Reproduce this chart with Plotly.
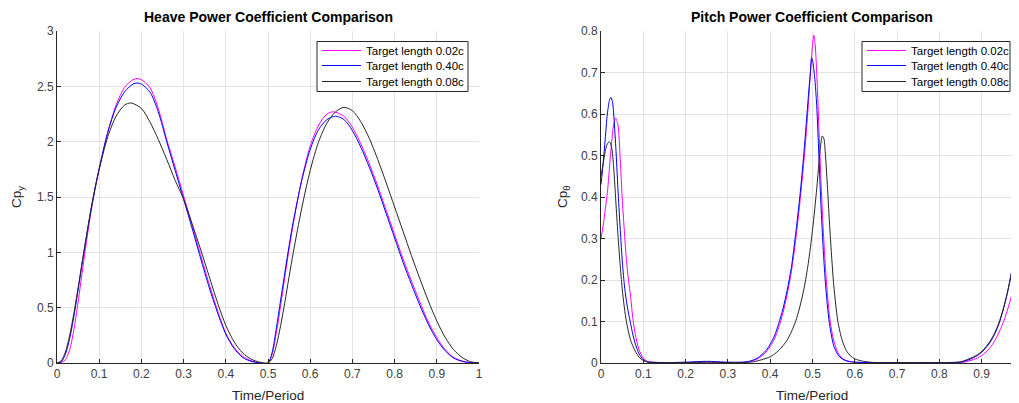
import plotly.graph_objects as go

# ---------------- Heave power coefficient (left) ----------------
heave_t_02 = [0, 0.01, 0.02, 0.03, 0.04, 0.05, 0.06, 0.07, 0.08, 0.09, 0.10, 0.12, 0.14, 0.16, 0.18, 0.19,
              0.20, 0.22, 0.24, 0.26, 0.28, 0.30, 0.32, 0.34, 0.36, 0.38, 0.40, 0.42, 0.44, 0.46, 0.48, 0.50,
              0.51, 0.52, 0.53, 0.54, 0.55, 0.56, 0.58, 0.60, 0.62, 0.64, 0.655, 0.68, 0.70, 0.72, 0.74, 0.76,
              0.78, 0.80, 0.82, 0.84, 0.86, 0.88, 0.90, 0.92, 0.94, 0.96, 0.98, 1.0]
heave_02 = [0, 0.005, 0.03, 0.12, 0.30, 0.55, 0.83, 1.10, 1.35, 1.57, 1.75, 2.08, 2.33, 2.49, 2.56, 2.57,
            2.56, 2.49, 2.30, 2.02, 1.77, 1.51, 1.25, 0.98, 0.72, 0.48, 0.27, 0.14, 0.06, 0.02, 0.003, 0,
            0.08, 0.28, 0.52, 0.78, 1.03, 1.26, 1.66, 1.96, 2.15, 2.25, 2.27, 2.23, 2.13, 1.98, 1.80, 1.60,
            1.38, 1.16, 0.94, 0.74, 0.55, 0.37, 0.23, 0.12, 0.05, 0.018, 0.004, 0]

heave_t_40 = [0, 0.01, 0.02, 0.03, 0.04, 0.05, 0.06, 0.07, 0.08, 0.09, 0.10, 0.12, 0.14, 0.16, 0.18, 0.19,
              0.20, 0.22, 0.24, 0.26, 0.28, 0.30, 0.32, 0.34, 0.36, 0.38, 0.40, 0.42, 0.44, 0.46, 0.48, 0.50,
              0.51, 0.52, 0.53, 0.54, 0.55, 0.56, 0.58, 0.60, 0.62, 0.64, 0.66, 0.68, 0.70, 0.72, 0.74, 0.76,
              0.78, 0.80, 0.82, 0.84, 0.86, 0.88, 0.90, 0.92, 0.94, 0.96, 0.98, 1.0]
heave_40 = [0, 0.01, 0.08, 0.22, 0.42, 0.66, 0.91, 1.15, 1.38, 1.58, 1.76, 2.08, 2.31, 2.45, 2.52, 2.53,
            2.52, 2.45, 2.27, 2.00, 1.74, 1.48, 1.22, 0.95, 0.69, 0.46, 0.26, 0.13, 0.05, 0.015, 0.002, 0,
            0.10, 0.32, 0.57, 0.82, 1.06, 1.28, 1.65, 1.93, 2.11, 2.20, 2.23, 2.20, 2.10, 1.95, 1.77, 1.57,
            1.35, 1.13, 0.91, 0.71, 0.52, 0.35, 0.21, 0.11, 0.045, 0.015, 0.003, 0]

heave_t_08 = [0, 0.01, 0.02, 0.03, 0.04, 0.05, 0.06, 0.07, 0.08, 0.09, 0.10, 0.12, 0.14, 0.16, 0.175,
              0.20, 0.22, 0.24, 0.26, 0.28, 0.30, 0.32, 0.34, 0.36, 0.38, 0.40, 0.42, 0.44, 0.46, 0.48, 0.50,
              0.51, 0.52, 0.53, 0.54, 0.55, 0.56, 0.58, 0.60, 0.62, 0.64, 0.66, 0.68, 0.70, 0.72, 0.74, 0.76,
              0.78, 0.80, 0.82, 0.84, 0.86, 0.88, 0.90, 0.92, 0.94, 0.96, 0.98, 1.0]
heave_08 = [0, 0.02, 0.10, 0.25, 0.45, 0.68, 0.92, 1.15, 1.37, 1.57, 1.75, 2.04, 2.23, 2.33, 2.35,
            2.30, 2.18, 2.02, 1.84, 1.65, 1.48, 1.26, 1.03, 0.79, 0.55, 0.34, 0.19, 0.09, 0.035, 0.008, 0,
            0.04, 0.16, 0.34, 0.55, 0.78, 1.00, 1.40, 1.74, 2.00, 2.17, 2.27, 2.31, 2.28, 2.18, 2.03, 1.84,
            1.63, 1.41, 1.19, 0.97, 0.76, 0.56, 0.38, 0.23, 0.12, 0.05, 0.012, 0]

# ---------------- Pitch power coefficient (right) ----------------
pitch_t_02 = [0, 0.005, 0.01, 0.015, 0.02, 0.025, 0.03, 0.035, 0.04, 0.045, 0.05, 0.055, 0.06, 0.065, 0.07,
              0.075, 0.08, 0.085, 0.09, 0.10, 0.11, 0.12, 0.15, 0.20, 0.25, 0.30, 0.33, 0.35, 0.37, 0.39,
              0.40, 0.41, 0.42, 0.43, 0.44, 0.45, 0.46, 0.47, 0.48, 0.49, 0.495, 0.50, 0.503, 0.506, 0.51,
              0.515, 0.52, 0.525, 0.53, 0.535, 0.54, 0.545, 0.55, 0.56, 0.57, 0.58, 0.60, 0.65, 0.70, 0.75,
              0.80, 0.85, 0.87, 0.89, 0.90, 0.91, 0.92, 0.93, 0.94, 0.95, 0.96, 0.97, 0.98, 0.99, 1.0]
pitch_02 = [0.30, 0.33, 0.37, 0.41, 0.47, 0.53, 0.575, 0.59, 0.575, 0.50, 0.40, 0.32, 0.25, 0.20, 0.16,
            0.11, 0.075, 0.05, 0.032, 0.012, 0.004, 0.002, 0.001, 0.001, 0.002, 0.001, 0.001, 0.003, 0.010, 0.026,
            0.04, 0.058, 0.085, 0.12, 0.165, 0.22, 0.295, 0.385, 0.49, 0.62, 0.70, 0.765, 0.79, 0.77, 0.70,
            0.57, 0.44, 0.33, 0.24, 0.17, 0.115, 0.08, 0.055, 0.025, 0.012, 0.006, 0.002, 0.001, 0.001, 0.001,
            0.001, 0.001, 0.005, 0.012, 0.018, 0.026, 0.037, 0.052, 0.072, 0.095, 0.125, 0.16, 0.205, 0.255, 0.30]

pitch_t_40 = [0, 0.005, 0.01, 0.015, 0.02, 0.023, 0.027, 0.03, 0.035, 0.04, 0.045, 0.05, 0.055, 0.06, 0.065,
              0.07, 0.075, 0.08, 0.09, 0.10, 0.11, 0.12, 0.15, 0.20, 0.25, 0.30, 0.33, 0.35, 0.37, 0.39,
              0.40, 0.41, 0.42, 0.43, 0.44, 0.45, 0.46, 0.47, 0.48, 0.49, 0.495, 0.498, 0.50, 0.505, 0.51,
              0.515, 0.52, 0.525, 0.53, 0.535, 0.54, 0.545, 0.55, 0.56, 0.57, 0.58, 0.60, 0.65, 0.70, 0.75,
              0.80, 0.85, 0.87, 0.89, 0.90, 0.91, 0.92, 0.93, 0.94, 0.95, 0.96, 0.97, 0.98, 0.99, 1.0]
pitch_40 = [0.43, 0.48, 0.54, 0.60, 0.633, 0.64, 0.63, 0.60, 0.52, 0.42, 0.33, 0.25, 0.19, 0.15, 0.12,
            0.095, 0.07, 0.05, 0.022, 0.008, 0.003, 0.002, 0.001, 0.002, 0.004, 0.002, 0.002, 0.004, 0.012, 0.03,
            0.045, 0.065, 0.095, 0.13, 0.175, 0.23, 0.31, 0.40, 0.51, 0.64, 0.70, 0.735, 0.73, 0.69, 0.62,
            0.50, 0.38, 0.28, 0.20, 0.14, 0.095, 0.065, 0.042, 0.02, 0.01, 0.005, 0.002, 0.001, 0.001, 0.001,
            0.001, 0.002, 0.008, 0.018, 0.026, 0.037, 0.05, 0.068, 0.092, 0.125, 0.165, 0.215, 0.275, 0.345, 0.43]

pitch_t_08 = [0, 0.005, 0.01, 0.015, 0.02, 0.025, 0.03, 0.035, 0.04, 0.045, 0.05, 0.055, 0.06, 0.065, 0.07,
              0.08, 0.09, 0.10, 0.11, 0.12, 0.15, 0.20, 0.25, 0.30, 0.33, 0.36, 0.38, 0.40, 0.42, 0.44,
              0.45, 0.46, 0.47, 0.48, 0.49, 0.50, 0.51, 0.515, 0.52, 0.523, 0.527, 0.53, 0.535, 0.54, 0.545,
              0.55, 0.555, 0.56, 0.57, 0.58, 0.59, 0.60, 0.62, 0.65, 0.70, 0.75, 0.80, 0.85, 0.87, 0.89,
              0.90, 0.91, 0.92, 0.93, 0.94, 0.95, 0.96, 0.97, 0.98, 0.99, 1.0]
pitch_08 = [0.45, 0.48, 0.51, 0.528, 0.533, 0.52, 0.47, 0.39, 0.31, 0.24, 0.18, 0.135, 0.10, 0.075, 0.055,
            0.03, 0.014, 0.006, 0.002, 0.001, 0.001, 0.001, 0.002, 0.001, 0.001, 0.003, 0.008, 0.015, 0.03, 0.055,
            0.075, 0.10, 0.135, 0.18, 0.24, 0.32, 0.42, 0.48, 0.53, 0.547, 0.54, 0.51, 0.43, 0.34, 0.26,
            0.19, 0.14, 0.10, 0.055, 0.03, 0.017, 0.01, 0.004, 0.001, 0.001, 0.001, 0.001, 0.003, 0.01, 0.02,
            0.028, 0.039, 0.053, 0.071, 0.095, 0.127, 0.167, 0.217, 0.277, 0.35, 0.45]

series_names = ["Target length 0.02c", "Target length 0.40c", "Target length 0.08c"]
series_colors = ["#FF00FF", "#0000FF", "#262626"]

x_ticks = [0, 0.1, 0.2, 0.3, 0.4, 0.5, 0.6, 0.7, 0.8, 0.9, 1]
heave_y_ticks = [0, 0.5, 1, 1.5, 2, 2.5, 3]
pitch_y_ticks = [0, 0.1, 0.2, 0.3, 0.4, 0.5, 0.6, 0.7, 0.8]

FONT = "Liberation Sans, Arial, Helvetica, sans-serif"
# the page body adds an 8 px offset; the figure is sized so that it ends at the window edge
OFF = 8
WIN_W, WIN_H = 1019, 403
W, H = WIN_W - OFF, WIN_H - OFF


def px_x(p):  # window pixel -> paper x
    return (p - OFF) / W


def px_y(p):  # window pixel -> paper y
    return (WIN_H - p) / H


fig = go.Figure()

heave_data = [(heave_t_02, heave_02), (heave_t_40, heave_40), (heave_t_08, heave_08)]
pitch_data = [(pitch_t_02, pitch_02), (pitch_t_40, pitch_40), (pitch_t_08, pitch_08)]

for (t, v), name, col in zip(heave_data, series_names, series_colors):
    fig.add_trace(go.Scatter(x=t, y=v, mode="lines", name=name, showlegend=False,
                             line=dict(color=col, width=1, shape="spline", smoothing=0.8),
                             xaxis="x", yaxis="y"))
for (t, v), name, col in zip(pitch_data, series_names, series_colors):
    fig.add_trace(go.Scatter(x=t, y=v, mode="lines", name=name, showlegend=False,
                             line=dict(color=col, width=1, shape="spline", smoothing=0.8),
                             xaxis="x2", yaxis="y2"))

ydom = [px_y(363), px_y(31)]

axis_common = dict(
    showgrid=True, gridcolor="#E3E3E3", gridwidth=1,
    showline=True, linecolor="#262626", linewidth=1,
    ticks="inside", ticklen=4, tickcolor="#262626",
    zeroline=False, automargin=False,
    tickfont=dict(family=FONT, size=12, color="#404040"),
)

fig.update_layout(
    width=W, height=H,
    margin=dict(l=0, r=0, t=0, b=0),
    paper_bgcolor="white", plot_bgcolor="white",
    font=dict(family=FONT, color="#262626"),
    showlegend=False,
    xaxis=dict(domain=[px_x(57), px_x(479)], range=[0, 1], tickvals=x_ticks,
               anchor="y", **axis_common),
    yaxis=dict(domain=ydom, range=[0, 3], tickvals=heave_y_ticks, anchor="x", **axis_common),
    xaxis2=dict(domain=[px_x(601), 1.0], range=[0, (WIN_W - 601) / 423], tickvals=x_ticks,
                anchor="y2", **axis_common),
    yaxis2=dict(domain=ydom, range=[0, 0.8], tickvals=pitch_y_ticks, anchor="x2", **axis_common),
)

annotations = [
    dict(text="<b>Heave Power Coefficient Comparison</b>", x=px_x(268), y=px_y(17),
         font=dict(size=14, color="#000000")),
    dict(text="<b>Pitch Power Coefficient Comparison</b>", x=px_x(812), y=px_y(17),
         font=dict(size=14, color="#000000")),
    dict(text="Time/Period", x=px_x(268), y=px_y(395), font=dict(size=13.5, color="#262626")),
    dict(text="Time/Period", x=px_x(812), y=px_y(395), font=dict(size=13.5, color="#262626")),
    dict(text="Cp<sub>y</sub>", x=px_x(17), y=px_y(197), textangle=-90,
         font=dict(size=13.5, color="#262626")),
    dict(text="Cp<sub>θ</sub>", x=px_x(563), y=px_y(197), textangle=-90,
         font=dict(size=13.5, color="#262626")),
]

# Legends (drawn as boxes + line samples + text, matching the compact MATLAB legend)
shapes = []
legend_boxes = [(317, 468), (862, 1010)]
row_y = [50.5, 65.5, 81.5]
for (bx0, bx1) in legend_boxes:
    shapes.append(dict(type="rect", xref="paper", yref="paper",
                       x0=px_x(bx0), x1=px_x(bx1), y0=px_y(91.5), y1=px_y(41.5),
                       line=dict(color="#262626", width=1), fillcolor="white", layer="above"))
    for ry, name, col in zip(row_y, series_names, series_colors):
        shapes.append(dict(type="line", xref="paper", yref="paper",
                           x0=px_x(bx0 + 5), x1=px_x(bx0 + 44), y0=px_y(ry), y1=px_y(ry),
                           line=dict(color=col, width=1.2), layer="above"))
        annotations.append(dict(text=name, x=px_x(bx0 + 47), y=px_y(ry), xanchor="left",
                                font=dict(size=11.5, color="#000000")))

for a in annotations:
    a.update(xref="paper", yref="paper", showarrow=False, yanchor="middle")
    a.setdefault("xanchor", "center")
    a["font"]["family"] = FONT
fig.update_layout(annotations=annotations, shapes=shapes)

fig.write_html("out.html")
